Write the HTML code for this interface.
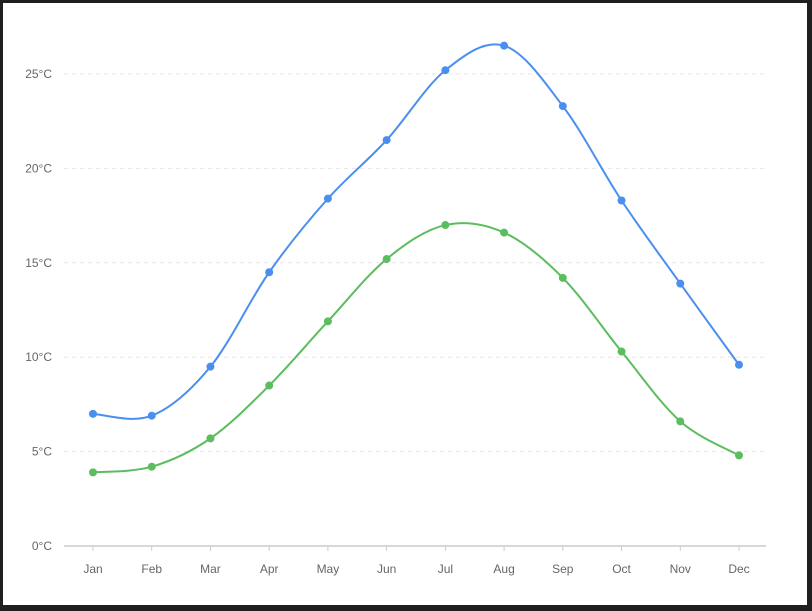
<!DOCTYPE html>
<html><head><meta charset="utf-8"><style>
body{margin:0;background:#1f1f1f;width:812px;height:611px;overflow:hidden}
#panel{position:absolute;left:3px;top:3px;width:804px;height:602px;background:#fff}
svg{position:absolute;left:0;top:0}
text{font-family:"Liberation Sans",sans-serif;font-size:12px;fill:#666}
</style></head><body>
<div id="panel"></div>
<svg id="chart" width="812" height="611"></svg>
<script>
const months=["Jan","Feb","Mar","Apr","May","Jun","Jul","Aug","Sep","Oct","Nov","Dec"];
const highTemps=[7.0,6.9,9.5,14.5,18.4,21.5,25.2,26.5,23.3,18.3,13.9,9.6];
const lowTemps=[3.9,4.2,5.7,8.5,11.9,15.2,17.0,16.6,14.2,10.3,6.6,4.8];
const yTicks=[0,5,10,15,20,25];
const NS="http://www.w3.org/2000/svg";
const svg=document.getElementById('chart');
const x=i=>93+i*(739-93)/11;
const y=v=>546-v*(546-74)/25;
function mk(t,a,p){const e=document.createElementNS(NS,t);for(const k in a)e.setAttribute(k,a[k]);(p||svg).appendChild(e);return e;}
yTicks.forEach(t=>{
  if(t>0){const g=mk('line',{x1:64,x2:766,y1:y(t),y2:y(t),stroke:'#e6e6e6','stroke-dasharray':'4 4'});
  
  }
  const l=mk('text',{x:52,y:y(t)+4,'text-anchor':'end'});l.textContent=t+'°C';
  
  
});
const ax=mk('line',{x1:64,x2:766,y1:546,y2:546,stroke:'#ccc','stroke-width':1.5});


months.forEach((m,i)=>{
  mk('line',{x1:x(i),x2:x(i),y1:546,y2:551,stroke:'#ccc'});
  const l=mk('text',{x:x(i),y:573,'text-anchor':'middle'});l.textContent=m;
  
  
});
function path(vals){
  const p=vals.map((v,i)=>[x(i),y(v)]);let d='M'+p[0][0]+','+p[0][1];
  for(let i=0;i<p.length-1;i++){const p0=p[i-1]||p[i],p1=p[i],p2=p[i+1],p3=p[i+2]||p2;
    const c1=[p1[0]+(p2[0]-p0[0])/6,p1[1]+(p2[1]-p0[1])/6],c2=[p2[0]-(p3[0]-p1[0])/6,p2[1]-(p3[1]-p1[1])/6];
    d+=` C${c1[0]},${c1[1]} ${c2[0]},${c2[1]} ${p2[0]},${p2[1]}`;}
  return d;}
[[highTemps,'#4a8ff0','high'],[lowTemps,'#5cbd5f','low']].forEach(([vals,c,n])=>{
  const l=mk('path',{d:path(vals),fill:'none',stroke:c,'stroke-width':2});
  
  
  vals.forEach((v,i)=>{const pt=mk('circle',{cx:x(i),cy:y(v),r:4,fill:c});
    
    });
});
</script></body></html>
